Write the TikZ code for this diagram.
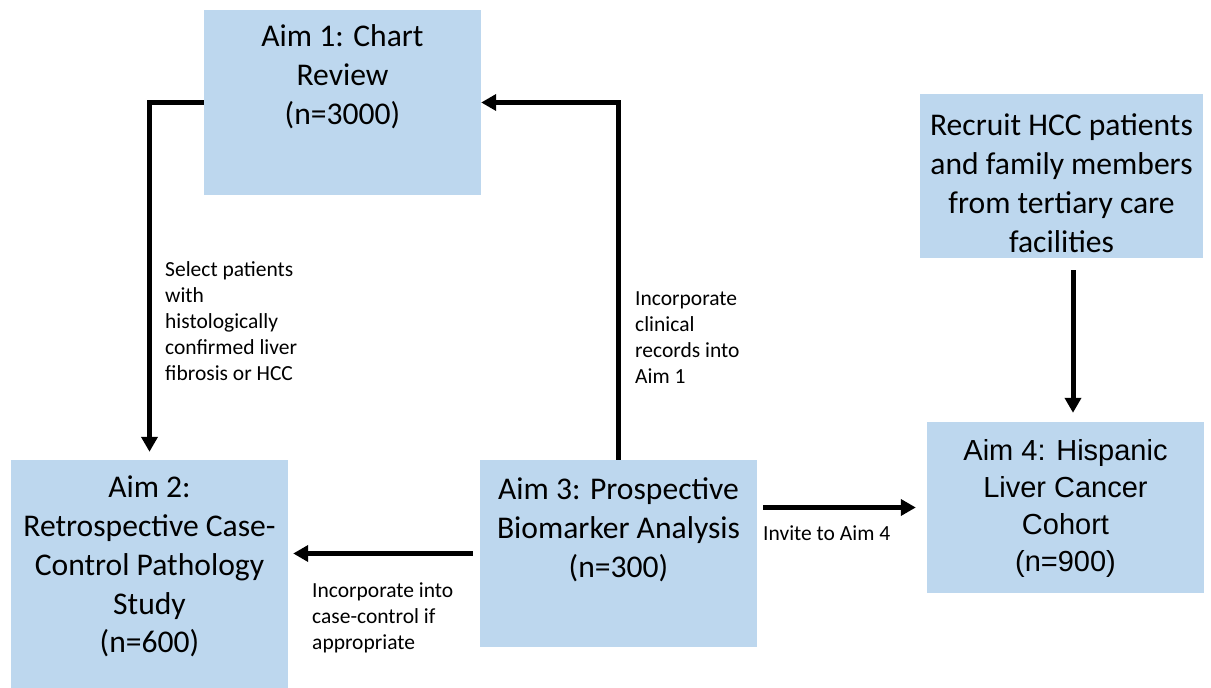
\documentclass[tikz,border=0pt]{standalone}
\usepackage{fontspec}
\setmainfont{Carlito}
\newfontfamily\arialfont{Liberation Sans}
\usetikzlibrary{arrows.meta,positioning}
\definecolor{aimblue}{HTML}{BDD7EE}
\tikzset{
	x=1pt, y=1pt,
	>={Triangle[length=15pt,width=16pt]}, % filled heads
	flow/.style={->, line width=5pt},
	aimbox/.style={fill=aimblue, draw=none, inner sep=0pt},
	aimtext/.style={align=center, inner sep=0pt, font=\fontsize{31.6}{38.8}\selectfont},
	note/.style={align=left, inner sep=0pt, anchor=north west, font=\fontsize{21.5}{26}\selectfont},
}
\begin{document}
\begin{tikzpicture}
	\useasboundingbox (0,0) rectangle (1211,688);

	% boxes
	\node[aimbox, minimum width=277pt, minimum height=185pt] (aim1) at (342.5,585.5) {};
	\node[aimbox, minimum width=283pt, minimum height=164pt] (recruit) at (1061.5,512) {};
	\node[aimbox, minimum width=277pt, minimum height=228pt] (aim2) at (149.5,114) {};
	\node[aimbox, minimum width=277pt, minimum height=187pt] (aim3) at (618.5,134.5) {};
	\node[aimbox, minimum width=277pt, minimum height=171pt] (aim4) at (1065.5,180.5) {};

	% box texts
	\node[aimtext, below=15pt of aim1.north] (aim1txt) {Aim 1: Chart\\Review\\(n=3000)};
	\node[aimtext, below=20pt of recruit.north] (recruittxt) {Recruit HCC patients\\and family members\\from tertiary care\\facilities};
	\node[aimtext, below=16pt of aim2.north] (aim2txt) {Aim 2:\\Retrospective Case-\\Control Pathology\\Study\\(n=600)};
	\node[aimtext, below=18pt of aim3.north] (aim3txt) {Aim 3: Prospective\\Biomarker Analysis\\(n=300)};
	\node[aimtext, below=17pt of aim4.north, font=\arialfont\fontsize{29}{37}\selectfont] (aim4txt) {Aim 4: Hispanic\\Liver Cancer\\Cohort\\(n=900)};

	% connectors
	\draw[flow, shorten >=8pt] (aim1.west) -| (aim2.north);
	\draw[flow] (aim3.north) |- (aim1.east);
	\draw[flow, shorten <=7pt, shorten >=5pt] (aim3.west) -- (aim2.east |- aim3.west);
	\draw[flow, shorten <=6pt, shorten >=11pt] (aim3.east |- aim4.west) -- (aim4.west);
	\draw[flow, shorten <=12pt, shorten >=9pt] ([xshift=11.5pt]recruit.south) -- ([xshift=11.5pt]recruit.south |- aim4.north);

	% connector notes
	\node[note] (selectnote) at (165,427) {Select patients\\with\\histologically\\confirmed liver\\fibrosis or HCC};
	\node[note] (clinicalnote) at (635,396) {Incorporate\\clinical\\records into\\Aim 1};
	\node[note] (invitenote) at (763,162) {Invite to Aim 4};
	\node[note] (casenote) at (312,105) {Incorporate into\\case-control if\\appropriate};
\end{tikzpicture}
\end{document}
